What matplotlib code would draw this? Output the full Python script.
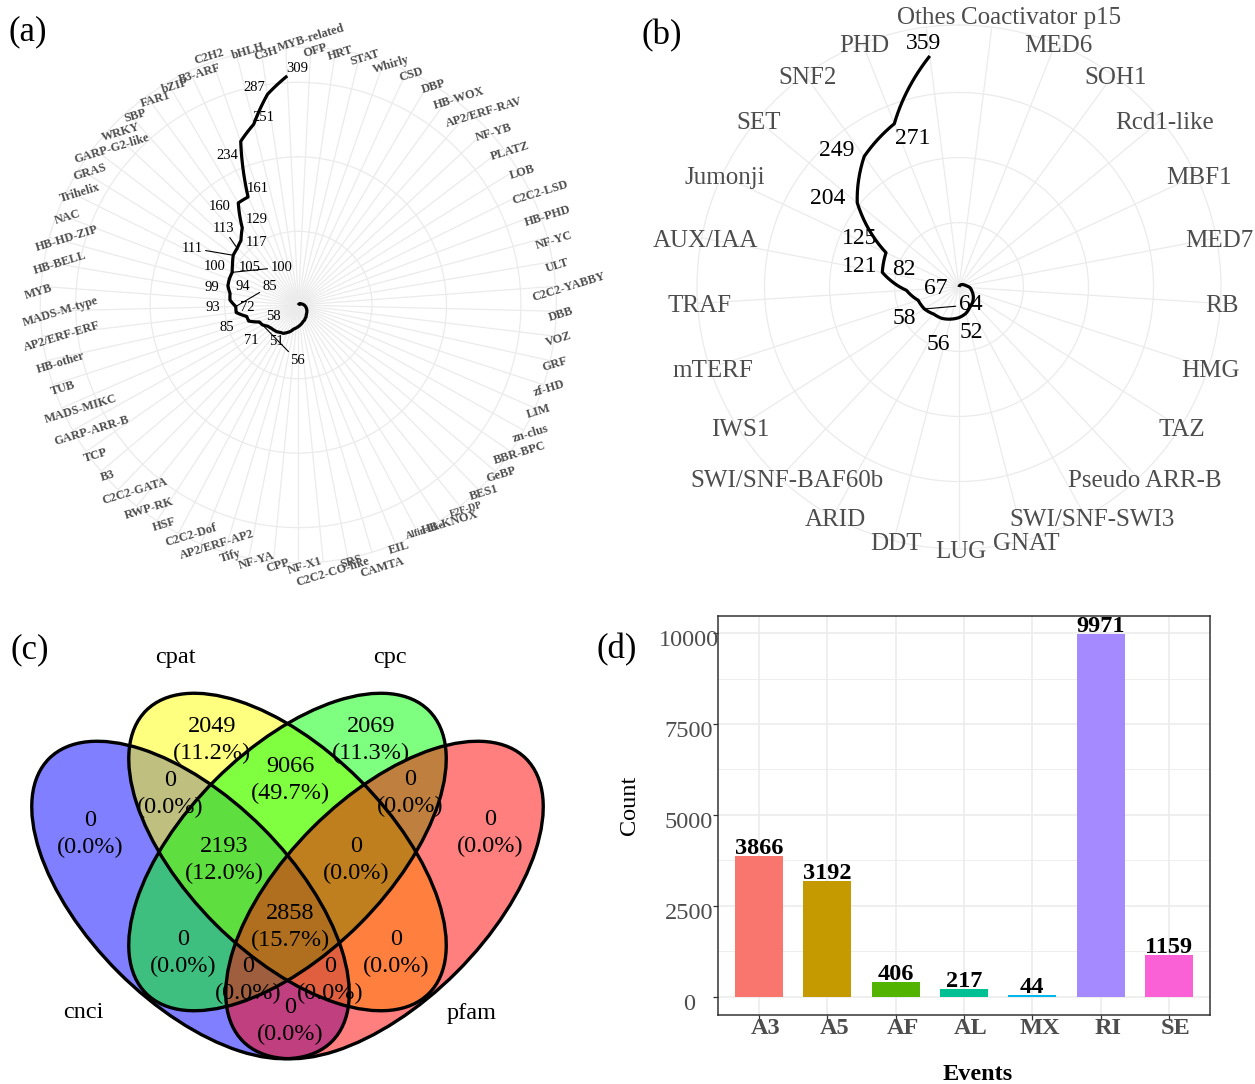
import numpy as np
import matplotlib
matplotlib.use("Agg")
import matplotlib.pyplot as plt
from matplotlib.patches import Ellipse
from matplotlib.transforms import ScaledTranslation
from matplotlib.textpath import TextPath
from matplotlib.font_manager import FontProperties

plt.rcParams['font.family'] = ['Liberation Serif', 'DejaVu Serif']

# (a) TF families, ordered as drawn (clockwise from top)
fam_a = ["OFP", "HRT", "STAT", "Whirly", "CSD", "DBP", "HB-WOX", "AP2/ERF-RAV", "NF-YB",
         "PLATZ", "LOB", "C2C2-LSD", "HB-PHD", "NF-YC", "ULT", "C2C2-YABBY", "DBB", "VOZ",
         "GRF", "zf-HD", "LIM", "zn-clus", "BBR-BPC", "GeBP", "BES1", "E2F-DP", "HB-KNOX",
         "Alfin-like", "EIL", "CAMTA", "SRS", "C2C2-CO-like", "NF-X1", "CPP", "NF-YA", "Tify",
         "AP2/ERF-AP2", "C2C2-Dof", "HSF", "RWP-RK", "C2C2-GATA", "B3", "TCP", "GARP-ARR-B",
         "MADS-MIKC", "TUB", "HB-other", "AP2/ERF-ERF", "MADS-M-type", "MYB", "HB-BELL",
         "HB-HD-ZIP", "NAC", "Trihelix", "GRAS", "GARP-G2-like", "WRKY", "SBP", "FAR1", "bZIP",
         "B3-ARF", "C2H2", "bHLH", "C3H", "MYB-related"]
val_a = [1, 1, 1, 1, 2, 2, 2, 2, 3, 3, 4, 4, 5, 6, 7, 8, 9, 10, 11, 12, 13, 14, 15, 16, 17, 18,
         20, 21, 23, 24, 26, 28, 30, 32, 34, 38, 41, 44, 45, 47, 48, 49,
         51, 56, 58, 71, 72, 85, 85, 93, 94, 99, 100, 100, 105, 111, 113, 117, 129, 160, 161,
         234, 251, 287, 309]

# (b) other regulators
fam_b = ["Coactivator p15", "MED6", "SOH1", "Rcd1-like", "MBF1", "MED7", "RB", "HMG", "TAZ",
         "Pseudo ARR-B", "SWI/SNF-SWI3", "GNAT", "LUG", "DDT", "ARID", "SWI/SNF-BAF60b", "IWS1",
         "mTERF", "TRAF", "AUX/IAA", "Jumonji", "SET", "SNF2", "PHD", "Othes"]
val_b = [1, 3, 5, 7, 9, 12, 18, 22, 27, 32, 36, 43, 48, 52, 56, 58, 64, 67, 82, 121, 125, 204,
         249, 271, 359]

# (c) venn
venn_sets = ["cnci", "cpat", "cpc", "pfam"]
venn_regions = ["cnci", "cpat", "cpc", "pfam", "cnci&cpat", "cpat&cpc", "cpc&pfam",
                "cnci&cpat&cpc", "cpat&cpc&pfam", "all", "cnci&cpc", "cpat&pfam",
                "cnci&cpc&pfam", "cnci&cpat&pfam", "cnci&pfam"]
venn_counts = [0, 2049, 2069, 0, 0, 9066, 0, 2193, 0, 2858, 0, 0, 0, 0, 0]

# (d) AS events
events = ["A3", "A5", "AF", "AL", "MX", "RI", "SE"]
event_counts = [3866, 3192, 406, 217, 44, 9971, 1159]

W, H = 1255, 1084
fig = plt.figure(figsize=(W / 100, H / 100), dpi=100)


def box(x0, y0, x1, y1):
    return [x0 / W, 1 - y1 / H, (x1 - x0) / W, (y1 - y0) / H]


GRID = '#EBEBEB'
GREY = '#4D4D4D'


def text_width(s, size, weight):
    fp = FontProperties(family='Liberation Serif', weight=weight)
    return TextPath((0, 0), s, size=size * 100 / 72, prop=fp).get_extents().width


def radar(ax, names, vals, lab_size, weight, rot, slide, left_bias, lab_dy, nudges, sizes,
          offsets, leaders, num_size):
    n = len(names)
    theta = (np.arange(n) + 0.5) * 2 * np.pi / n
    vmin, vmax = min(vals), max(vals)
    r = np.array(vals, dtype=float) - vmin
    rmax = (vmax - vmin) * 0.45 / 0.4
    ax.set_theta_zero_location('N')
    ax.set_theta_direction(-1)
    ax.set_ylim(0, rmax)
    ax.set_xticks(theta)
    ax.set_xticklabels([])
    ax.set_yticks([b - vmin for b in (100, 200, 300)])
    ax.set_yticklabels([])
    ax.tick_params(length=0)
    ax.grid(True, color=GRID, lw=0.9)
    ax.spines['polar'].set_color(GRID)
    ax.spines['polar'].set_linewidth(0.9)
    ln, = ax.plot(theta, r, color='black', lw=2.3, solid_joinstyle='round',
                  solid_capstyle='butt', zorder=3)
    ln.get_path()._interpolation_steps = 40
    ca, sa = np.cos(np.radians(rot)), np.sin(np.radians(rot))
    for i, name in enumerate(names):
        fs = sizes.get(name, lab_size)
        s = slide * text_width(name, fs, weight)
        nx, ny = nudges.get(name, (0, 0))
        nx += left_bias * max(0.0, -np.sin(theta[i]))
        ax.annotate(name, (theta[i], rmax), xytext=(s * ca + nx, s * sa + ny + lab_dy),
                    textcoords='offset pixels', ha='center', va='center', rotation=rot,
                    annotation_clip=False, fontsize=fs, fontweight=weight, color=GREY)
    big = [i for i, v in enumerate(vals) if v >= 50]
    for j, i in enumerate(big):
        arrow = None
        if names[i] in leaders:
            arrow = dict(arrowstyle='-', color='black', lw=0.8, shrinkA=0, shrinkB=0)
        ax.annotate(str(vals[i]), (theta[i], r[i]), xytext=offsets[j], textcoords='offset pixels',
                    ha='center', va='center', fontsize=num_size, arrowprops=arrow,
                    annotation_clip=False, zorder=4)


# ---- (a)
ax_a = fig.add_axes(box(298.3 - 258, 305 - 258, 298.3 + 258, 305 + 258), projection='polar')
off_a = [(9, -15), (35, -36), (14, 5), (3, -19), (1, 9), (-9, -15), (34, 20), (-17, -7),
         (13, 7), (-16, -2), (-15, 12), (49, 5), (17, -3), (-41, 7), (-14, 20), (15, -2),
         (14, 8), (-19, -4), (10, 8), (-13, -14), (10, 7), (-13, 7), (10, 7)]
nudge_a = {"MYB-related": (12, 10), "C2H2": (-11, 8), "bHLH": (4, 6), "CAMTA": (2, -13),
           "C2C2-CO-like": (-4, -9), "MYB": (-13, -2), "Alfin-like": (0, 5)}
size_a = {"Alfin-like": 7.1, "E2F-DP": 7.0}
radar(ax_a, fam_a, val_a, 8.8, 'bold', 17, 0.19, 6, -5, nudge_a, size_a, off_a,
      {"GARP-ARR-B", "MADS-M-type", "Trihelix", "GARP-G2-like", "WRKY"}, 10.5)

# ---- (b)
ax_b = fig.add_axes(box(959 - 262, 287 - 262, 959 + 262, 287 + 262), projection='polar')
off_b = [(21, -13), (-3, -26), (-29, -4), (46, 4), (18, 12), (-3, 21), (-23, 6), (-26, 14),
         (-30, 4), (-27, 6), (18, -15), (-6, 12)]
radar(ax_b, fam_b, val_b, 18, 'normal', 0, 0.04, 0, -3,
      {"Othes": (-2, 12), "Coactivator p15": (43, 12)}, {}, off_b, {"IWS1"}, 17)

# ---- (c) Venn
ax_c = fig.add_axes(box(0, 620, 640, 1084))
ax_c.set_xlim(0, 640)
ax_c.set_ylim(1084, 620)
ax_c.axis('off')
ell_centres = [(190.5, 900), (287.5, 852), (287.5, 852), (384.5, 900)]
ell_angles = [45, 45, -45, -45]
ell_cols = ['#0000FF', '#FFFF00', '#00FF00', '#FF0000']
for c, a, col in zip(ell_centres, ell_angles, ell_cols):
    ax_c.add_patch(Ellipse(c, 400, 204, angle=a, facecolor=col, alpha=0.5, lw=0))
for c, a in zip(ell_centres, ell_angles):
    ax_c.add_patch(Ellipse(c, 400, 204, angle=a, fill=False, edgecolor='black', lw=2.4))

region_pos = [(90, 834), (212, 740), (371, 740), (490, 833), (170, 794), (290, 780),
              (410, 793), (224, 860), (356, 860), (290, 927), (183, 953), (396, 953),
              (248, 980), (330, 980), (290, 1021)]
total = sum(venn_counts)
for (x, y), cnt in zip(region_pos, venn_counts):
    ax_c.text(x, y, f"{cnt}\n({100 * cnt / total:.1f}%)", ha='center', va='center',
              fontsize=17.5, linespacing=1.42)
set_pos = [(83, 1013), (175, 658), (390, 658), (472, 1013)]
for (x, y), s in zip(set_pos, venn_sets):
    ax_c.text(x, y, s, ha='center', va='center', fontsize=17.5)

# ---- (d) bar chart
ax_d = fig.add_axes(box(718, 616, 1210, 1015))
xpos = np.arange(1, len(events) + 1)
hue = ['#F8766D', '#C49A00', '#53B400', '#00C094', '#00B6EB', '#A58AFF', '#FB61D7']
ax_d.bar(xpos, event_counts, width=0.7, color=hue, zorder=2)
for xi, v in zip(xpos, event_counts):
    ax_d.annotate(str(v), (xi, v), xytext=(0, 2), textcoords='offset pixels', ha='center',
                  va='baseline', fontsize=17.5, fontweight='bold', zorder=3)
ax_d.set_xlim(0.4, 7.6)
ax_d.set_ylim(-498.55, 10469.55)
ax_d.set_xticks(xpos)
ax_d.set_xticklabels(events, fontweight='bold')
ax_d.set_yticks([0, 2500, 5000, 7500, 10000])
ax_d.set_yticks([1250, 3750, 6250, 8750], minor=True)
ax_d.grid(True, which='major', color=GRID, lw=1.1, zorder=0)
ax_d.grid(True, which='minor', axis='y', color=GRID, lw=0.6, zorder=0)
ax_d.set_axisbelow(True)
for sp in ax_d.spines.values():
    sp.set_color('#333333')
    sp.set_linewidth(1.1)
ax_d.tick_params(axis='both', which='major', color='#333333', length=3.5, width=0.9,
                 labelsize=17.5, labelcolor=GREY)
ax_d.tick_params(axis='x', pad=-1.5)
ax_d.tick_params(axis='y', pad=17.4)
ax_d.tick_params(which='minor', length=0)
for lab in ax_d.get_yticklabels():
    lab.set_ha('center')
    lab.set_transform(lab.get_transform() + ScaledTranslation(0, -0.05, fig.dpi_scale_trans))
for lab in ax_d.get_xticklabels():
    lab.set_transform(lab.get_transform() + ScaledTranslation(0.07, 0, fig.dpi_scale_trans))
fig.text(978 / W, 1 - 1075 / H, "Events", ha='center', va='center', fontsize=17.5,
         fontweight='bold')
fig.text(630 / W, 1 - 805 / H, "Count", ha='center', va='center', fontsize=17.5, rotation=90)

# panel letters
for lab, (x, y) in zip(["(a)", "(b)", "(c)", "(d)"], [(28, 32), (662, 36), (30, 650), (617, 650)]):
    fig.text(x / W, 1 - y / H, lab, ha='center', va='center', fontsize=25)

fig.savefig("out.png", dpi=100, facecolor='white')
